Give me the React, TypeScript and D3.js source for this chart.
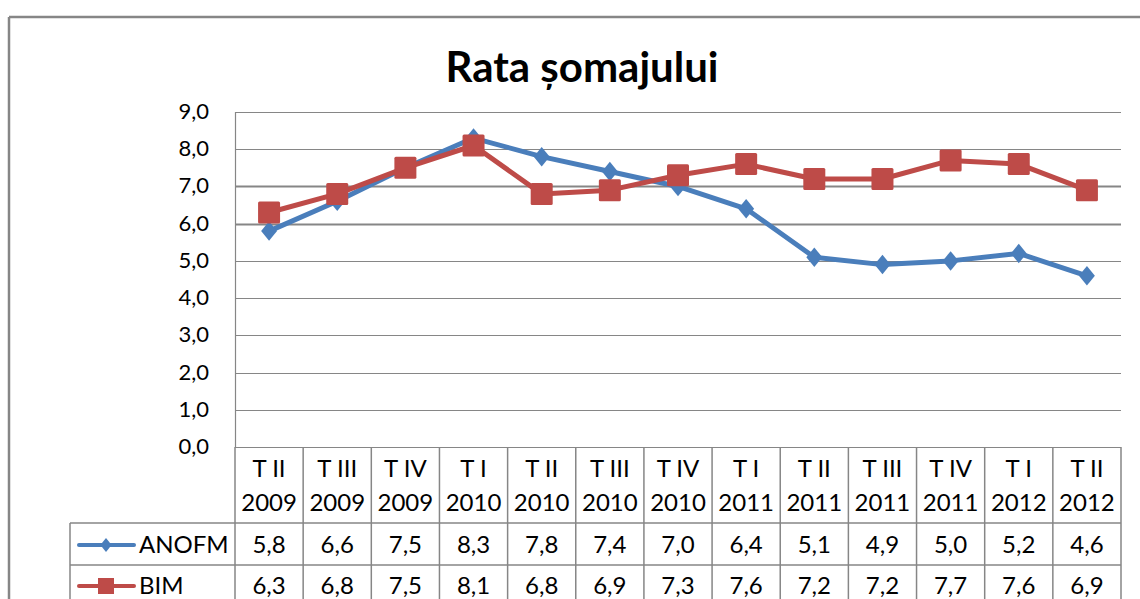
import { useEffect, useRef } from 'react'
import * as d3 from 'd3'

const quarters = ['T II', 'T III', 'T IV', 'T I', 'T II', 'T III', 'T IV', 'T I', 'T II', 'T III', 'T IV', 'T I', 'T II']
const years = ['2009', '2009', '2009', '2010', '2010', '2010', '2010', '2011', '2011', '2011', '2011', '2012', '2012']
const anofm = [5.8, 6.6, 7.5, 8.3, 7.8, 7.4, 7.0, 6.4, 5.1, 4.9, 5.0, 5.2, 4.6]
const bim = [6.3, 6.8, 7.5, 8.1, 6.8, 6.9, 7.3, 7.6, 7.2, 7.2, 7.7, 7.6, 6.9]
const yTicks = [0, 1, 2, 3, 4, 5, 6, 7, 8, 9]

const W = 1140
const H = 599
const FONT = 'Lato, "Open Sans", sans-serif'
const BLUE = '#4a7ebb'
const RED = '#be4b48'
const GRID = '#868686'

const comma = (v: number) => v.toFixed(1).replace('.', ',')

export default function App() {
  const svgRef = useRef<SVGSVGElement>(null)

  useEffect(() => {
    if (!svgRef.current) return
    const svg = d3.select(svgRef.current)
    svg.selectAll('*').remove()

    const m = { left: 235, right: 1121, top: 112, bottom: 447 }
    const idx = d3.range(quarters.length)
    const x = d3.scaleBand<number>().domain(idx).range([m.left, m.right])
    const y = d3.scaleLinear().domain([0, 9]).range([m.bottom, m.top])
    const cx = (i: number) => (x(i) || 0) + x.bandwidth() / 2

    // outer chart border
    svg.append('line').attr('x1', 9).attr('x2', W).attr('y1', 17).attr('y2', 17)
      .attr('stroke', GRID).attr('stroke-width', 2.5)
    svg.append('line').attr('x1', 9).attr('x2', 9).attr('y1', 17).attr('y2', H)
      .attr('stroke', GRID).attr('stroke-width', 2.5)

    svg.append('text').attr('x', 582).attr('y', 82).attr('text-anchor', 'middle')
      .attr('font-family', FONT).attr('font-weight', 'bold').attr('font-size', 42)
      .attr('fill', '#000').text('Rata șomajului')

    // grid + y labels
    svg.append('g').selectAll('line').data(yTicks).join('line')
      .attr('x1', m.left).attr('x2', m.right)
      .attr('y1', d => Math.round(y(d)) + 0.5).attr('y2', d => Math.round(y(d)) + 0.5)
      .attr('stroke', GRID).attr('stroke-width', d => (d === 6 || d === 7 ? 2 : 1.2))
    svg.append('g').selectAll('text').data(yTicks).join('text')
      .attr('x', 209).attr('y', d => y(d) + 7).attr('text-anchor', 'end')
      .attr('font-family', FONT).attr('font-size', 22).attr('fill', '#000')
      .text(d => comma(d))
    svg.append('line').attr('x1', m.left + 0.5).attr('x2', m.left + 0.5)
      .attr('y1', m.top).attr('y2', m.bottom).attr('stroke', GRID).attr('stroke-width', 1.2)

    // table
    const rows = [m.bottom, 523, 565]
    const tbl = svg.append('g').attr('stroke', GRID).attr('stroke-width', 1.5)
    idx.concat([quarters.length]).forEach(i => {
      const xx = i === quarters.length ? m.right : (x(i) || 0)
      tbl.append('line').attr('x1', xx).attr('x2', xx).attr('y1', rows[0]).attr('y2', H)
    })
    tbl.append('line').attr('x1', 70).attr('x2', 70).attr('y1', rows[1]).attr('y2', H)
    tbl.append('line').attr('x1', 70).attr('x2', m.right).attr('y1', rows[1]).attr('y2', rows[1])
    tbl.append('line').attr('x1', 70).attr('x2', m.right).attr('y1', rows[2]).attr('y2', rows[2])

    const txt = svg.append('g').attr('font-family', FONT).attr('font-size', 24)
      .attr('fill', '#000').attr('text-anchor', 'middle')
    idx.forEach(i => {
      txt.append('text').attr('x', cx(i)).attr('y', 477).text(quarters[i])
      txt.append('text').attr('x', cx(i)).attr('y', 511).text(years[i])
      txt.append('text').attr('x', cx(i)).attr('y', 553).text(comma(anofm[i]))
      txt.append('text').attr('x', cx(i)).attr('y', 594).text(comma(bim[i]))
    })

    // legend keys
    const leg = svg.append('g')
    leg.append('line').attr('x1', 79).attr('x2', 134).attr('y1', 545).attr('y2', 545)
      .attr('stroke', BLUE).attr('stroke-width', 4).attr('stroke-linecap', 'round')
    leg.append('path').attr('d', d3.symbol(d3.symbolDiamond2, 100)())
      .attr('transform', 'translate(106,545) scale(0.9,1.1)').attr('fill', BLUE)
    leg.append('line').attr('x1', 79).attr('x2', 134).attr('y1', 586).attr('y2', 586)
      .attr('stroke', RED).attr('stroke-width', 4).attr('stroke-linecap', 'round')
    leg.append('rect').attr('x', 98).attr('y', 578).attr('width', 16).attr('height', 16).attr('fill', RED)
    leg.append('text').attr('x', 139).attr('y', 553).attr('font-family', FONT).attr('font-size', 24).text('ANOFM')
    leg.append('text').attr('x', 139).attr('y', 594).attr('font-family', FONT).attr('font-size', 24).text('BIM')

    // series
    const line = d3.line<number>().x((_, i) => cx(i)).y(d => y(d))
    svg.append('path').datum(anofm).attr('d', line).attr('fill', 'none')
      .attr('stroke', BLUE).attr('stroke-width', 5).attr('stroke-linejoin', 'round')
    svg.append('g').selectAll('path').data(anofm).join('path')
      .attr('d', d3.symbol(d3.symbolDiamond2, 200)())
      .attr('transform', (d, i) => `translate(${cx(i)},${y(d)}) scale(0.9,1.1)`).attr('fill', BLUE)

    svg.append('path').datum(bim).attr('d', line).attr('fill', 'none')
      .attr('stroke', RED).attr('stroke-width', 5).attr('stroke-linejoin', 'round')
    svg.append('g').selectAll('rect').data(bim).join('rect')
      .attr('x', (_, i) => cx(i) - 11).attr('y', d => y(d) - 11)
      .attr('width', 22).attr('height', 22).attr('rx', 1.5).attr('fill', RED)
  }, [])

  return (
    <svg ref={svgRef} width={W} height={H}
      style={{ position: 'absolute', left: 0, top: 0, background: '#fff' }} />
  )
}
